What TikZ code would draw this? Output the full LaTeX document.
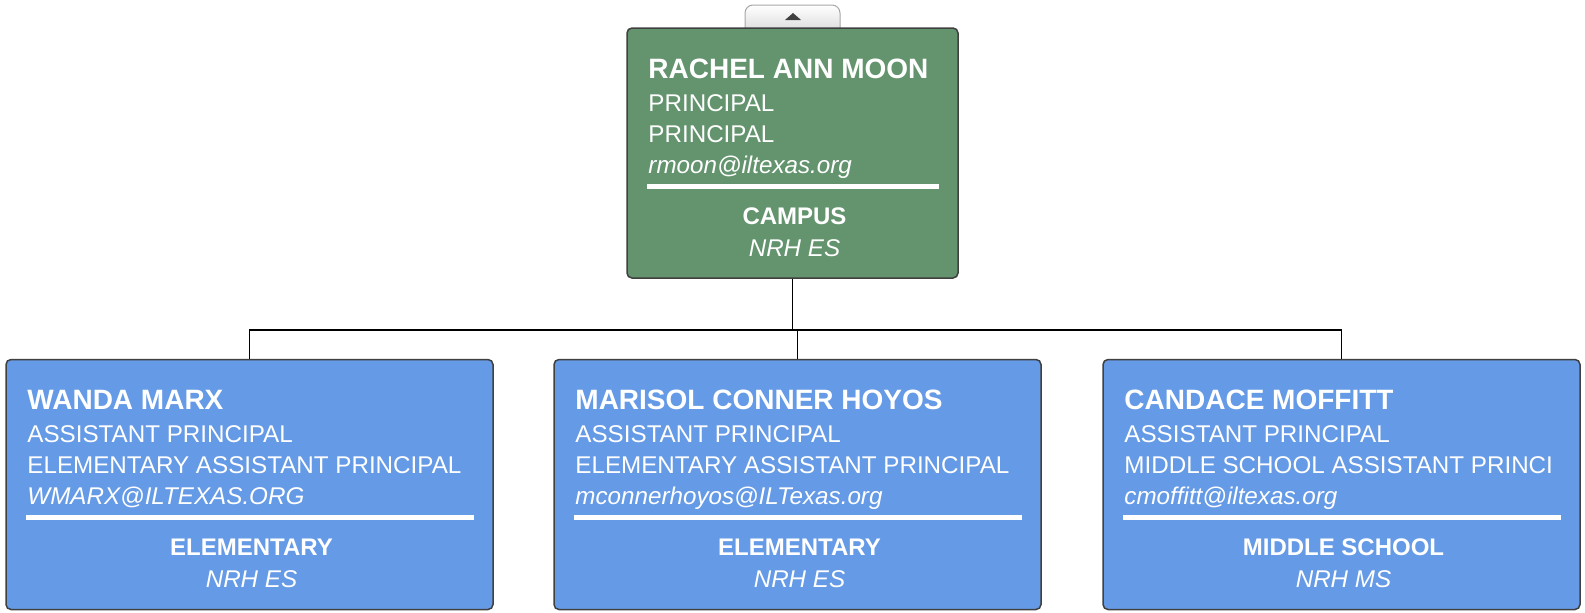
\documentclass[tikz,border=0pt]{standalone}
\usepackage{fontspec}
\setmainfont{Liberation Sans}
\usetikzlibrary{calc,positioning}
\definecolor{colHEAD}{RGB}{99,148,110}
\definecolor{colSUB}{RGB}{101,154,230}
\definecolor{colEDGE}{RGB}{64,64,64}

% text of one card, placed from the card's top corners
\newcommand{\orgcard}[7]{%
  \node[cname] (#1-n) at ($(#1.north west)+(22,51)$) {#2};
  \node[cline] (#1-t) at ($(#1.north west)+(22,84)$) {#3};
  \node[cline] (#1-r) at ($(#1.north west)+(22,115)$) {#4};
  \node[cmail] (#1-m) at ($(#1.north west)+(22,146)$) {#5};
  \draw[white,line width=5pt] ($(#1.north west)+(21,159)$) -- ($(#1.north east)+(-20,159)$);
  \node[cdept] (#1-d) at ($(#1.north)+(2,197)$) {#6};
  \node[ccamp] (#1-c) at ($(#1.north)+(2,229)$) {#7};
}

\begin{document}
\begin{tikzpicture}[x=1pt,y=-1pt,
    card/.style={draw=colEDGE,line width=1.5pt,rounded corners=5pt,minimum height=250pt,inner sep=0pt},
    cname/.style={anchor=base west,text=white,inner sep=0pt,font=\fontsize{28}{30}\selectfont\bfseries},
    cline/.style={anchor=base west,text=white,inner sep=0pt,font=\fontsize{24.2}{26}\selectfont},
    cmail/.style={cline,font=\fontsize{24.2}{26}\selectfont\itshape},
    cdept/.style={anchor=base,text=white,inner sep=0pt,font=\fontsize{24}{26}\selectfont\bfseries},
    ccamp/.style={cdept,font=\fontsize{24.2}{26}\selectfont\itshape}]
  \useasboundingbox (0,0) rectangle (1585,613);
  % collapse tab above the top card
  \draw[gray!70,top color=white,bottom color=gray!25,line width=1pt,rounded corners=8pt] (745,29) -- (745,5) -- (840,5) -- (840,29);
  \fill[colEDGE] (785,20) -- (801,20) -- (793,13) -- cycle;
  % cards
  \node[card,fill=colHEAD,minimum width=331pt] (moon) at (792.5,153) {};
  \node[card,fill=colSUB,minimum width=487pt] (marx) at (249.5,484.5) {};
  \node[card,fill=colSUB,minimum width=487pt] (hoyos) at (797.5,484.5) {};
  \node[card,fill=colSUB,minimum width=477pt] (moffitt) at (1341.5,484.5) {};
  % connectors
  \coordinate (bus) at ($(moon.south)+(0,51)$);
  \draw[line width=1.5pt] (moon.south) -- (bus);
  \draw[line width=1.5pt] (marx.north) |- (bus) -| (moffitt.north);
  \draw[line width=1.5pt] (hoyos.north) -- (hoyos.north |- bus);
  % texts
  \orgcard{moon}{RACHEL ANN MOON}{PRINCIPAL}{PRINCIPAL}{rmoon@iltexas.org}{CAMPUS}{NRH ES}
  \orgcard{marx}{WANDA MARX}{ASSISTANT PRINCIPAL}{ELEMENTARY ASSISTANT PRINCIPAL}{WMARX@ILTEXAS.ORG}{ELEMENTARY}{NRH ES}
  \orgcard{hoyos}{MARISOL CONNER HOYOS}{ASSISTANT PRINCIPAL}{ELEMENTARY ASSISTANT PRINCIPAL}{mconnerhoyos@ILTexas.org}{ELEMENTARY}{NRH ES}
  \orgcard{moffitt}{CANDACE MOFFITT}{ASSISTANT PRINCIPAL}{MIDDLE SCHOOL ASSISTANT PRINCI}{cmoffitt@iltexas.org}{MIDDLE SCHOOL}{NRH MS}
\end{tikzpicture}
\end{document}
